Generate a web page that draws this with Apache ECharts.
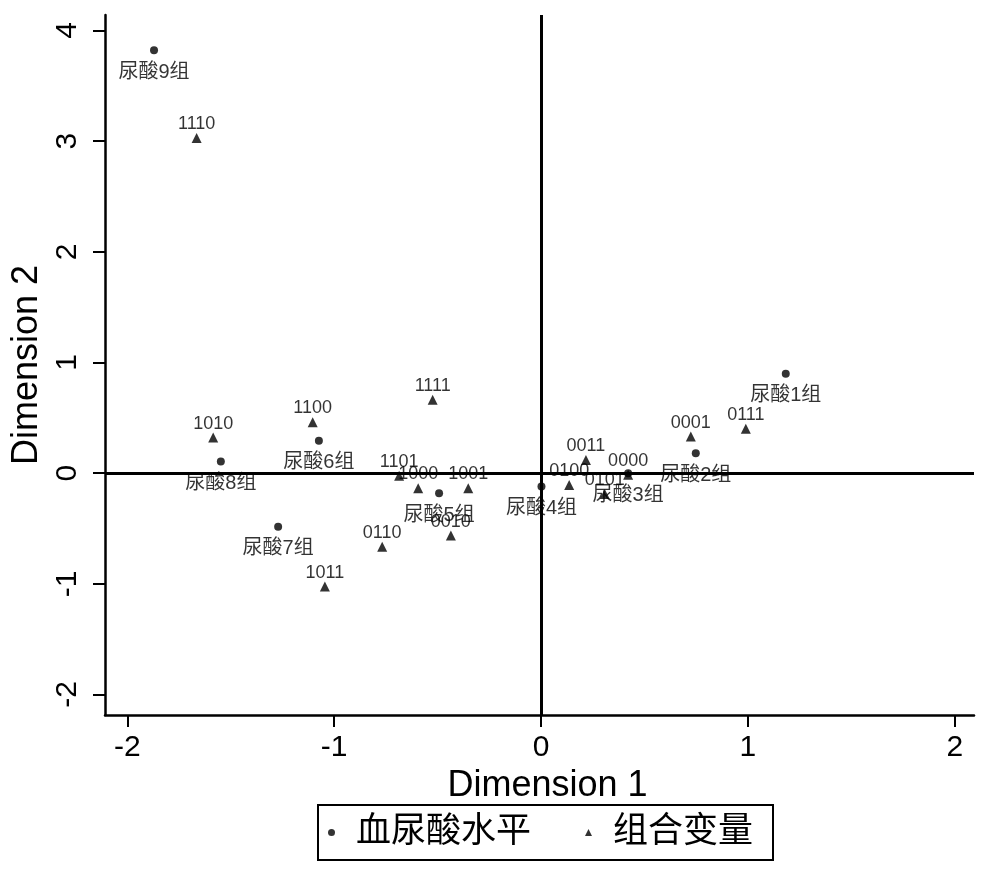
<!DOCTYPE html>
<html>
<head>
<meta charset="UTF-8">
<title>血尿酸水平与组合变量</title>
<script src="https://cdn.jsdelivr.net/npm/echarts@6/dist/echarts.min.js"></script>
<style>
html, body { margin: 0; padding: 0; background: #fff; }
#chart { width: 985px; height: 869px; }
</style>
</head>
<body>
<div id="chart"></div>
<script type="text/javascript">
// 血尿酸水平 (圆点)
var uricNames = ['尿酸1组', '尿酸2组', '尿酸3组', '尿酸4组', '尿酸5组', '尿酸6组', '尿酸7组', '尿酸8组', '尿酸9组'];
var uricX = [1.183, 0.748, 0.421, 0.002, -0.493, -1.074, -1.271, -1.548, -1.871];
var uricY = [0.898, 0.181, 0.000, -0.121, -0.181, 0.292, -0.483, 0.105, 3.821];

// 组合变量 (三角)
var comboNames = ['0000', '0001', '0010', '0011', '0100', '0101', '0110', '0111',
                  '1000', '1001', '1010', '1011', '1100', '1101', '1110', '1111'];
var comboX = [0.421, 0.724, -0.436, 0.217, 0.136, 0.308, -0.768, 0.990,
              -0.594, -0.352, -1.585, -1.045, -1.104, -0.686, -1.665, -0.524];
var comboY = [-0.015, 0.331, -0.564, 0.120, -0.106, -0.187, -0.664, 0.401,
              -0.136, -0.136, 0.322, -1.025, 0.461, -0.024, 3.029, 0.663];

// 刻度
var xTicks = [-2, -1, 0, 1, 2];
var yTicks = [-2, -1, 0, 1, 2, 3, 4];

var latin = 'Liberation Sans, Arial, sans-serif';
var cjk = 'Liberation Sans, "Noto Sans CJK SC", sans-serif';

function pts(names, xs, ys) {
    var out = [];
    for (var i = 0; i < names.length; i++) {
        out.push({ name: names[i], value: [xs[i], ys[i]] });
    }
    return out;
}

var myChart = echarts.init(document.getElementById('chart'));

var option = {
    backgroundColor: '#fff',
    animation: false,
    grid: { left: 105, right: 11, top: 15, bottom: 154 },
    xAxis: {
        type: 'value',
        min: -2.108,
        max: 2.093,
        name: 'Dimension 1',
        nameLocation: 'middle',
        nameGap: 48,
        nameTextStyle: { fontFamily: latin, fontSize: 36, color: '#000', padding: [0, 0, 0, 16] },
        axisLine: { show: true, onZero: false, lineStyle: { color: '#000', width: 2.5 } },
        axisTick: { show: true, customValues: xTicks, length: 12, lineStyle: { color: '#000', width: 2 } },
        axisLabel: { customValues: xTicks, fontFamily: latin, fontSize: 30, color: '#000', margin: 18 },
        splitLine: { show: false }
    },
    yAxis: {
        type: 'value',
        min: -2.185,
        max: 4.14,
        name: 'Dimension 2',
        nameLocation: 'middle',
        nameGap: 49,
        nameRotate: 90,
        nameTextStyle: { fontFamily: latin, fontSize: 36, color: '#000' },
        axisLine: { show: true, onZero: false, lineStyle: { color: '#000', width: 2.5 } },
        axisTick: { show: true, customValues: yTicks, length: 12, lineStyle: { color: '#000', width: 2 } },
        axisLabel: { customValues: yTicks, rotate: 90, fontFamily: latin, fontSize: 30, color: '#000', margin: 22 },
        splitLine: { show: false }
    },
    legend: {
        data: ['血尿酸水平', '组合变量'],
        left: 318,
        top: 805,
        orient: 'horizontal',
        padding: [10, 20, 10, 10],
        borderColor: '#000',
        borderWidth: 2,
        itemWidth: 7,
        itemHeight: 7,
        itemGap: 54,
        textStyle: { fontFamily: cjk, fontSize: 35, color: '#000', lineHeight: 35, padding: [0, 0, 0, 16] }
    },
    series: [
        {
            name: '血尿酸水平',
            type: 'scatter',
            symbol: 'circle',
            symbolSize: 8,
            itemStyle: { color: '#000' },
            data: pts(uricNames, uricX, uricY),
            label: {
                show: true,
                position: 'bottom',
                distance: 8,
                formatter: '{b}',
                fontFamily: cjk,
                fontSize: 20,
                color: '#000'
            },
            markLine: {
                z: 1,
                silent: true,
                symbol: ['none', 'none'],
                label: { show: false },
                lineStyle: { color: '#000', width: 3, type: 'solid' },
                data: [{ xAxis: 0 }, { yAxis: 0 }]
            }
        },
        {
            name: '组合变量',
            type: 'scatter',
            symbol: 'triangle',
            symbolSize: 10,
            itemStyle: { color: '#000' },
            data: pts(comboNames, comboX, comboY),
            label: {
                show: true,
                position: 'top',
                distance: 0,
                formatter: '{b}',
                fontFamily: latin,
                fontSize: 18,
                color: '#000'
            }
        }
    ]
};

myChart.setOption(option);
</script>
</body>
</html>
